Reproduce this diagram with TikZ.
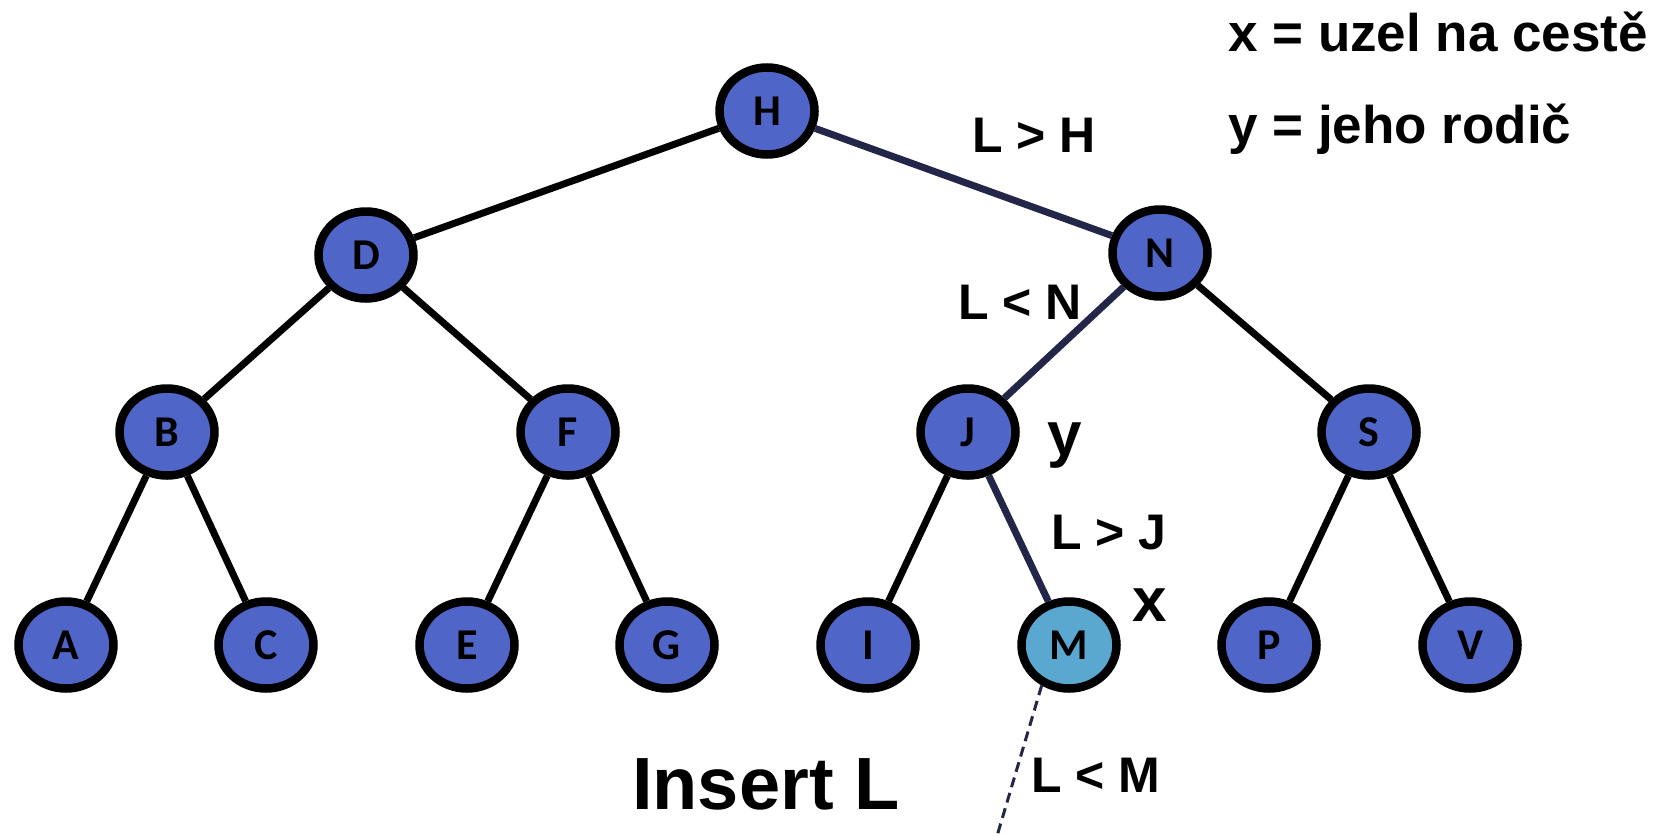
\documentclass[tikz,border=0pt]{standalone}
\usepackage{fontspec}
\setmainfont{Liberation Sans}
\newfontfamily\uzelfont{Carlito}
\usetikzlibrary{shapes.geometric}
\definecolor{uzelmodra}{RGB}{79,102,200}
\definecolor{svetlamodra}{RGB}{90,168,208}
\definecolor{cesta}{RGB}{35,38,72}
\begin{document}
\begin{tikzpicture}[x=1pt, y=-1pt,
        uzel/.style={ellipse, draw=black, fill=uzelmodra, line width=8.5pt,
            minimum width=95pt, minimum height=87pt, inner sep=0pt,
            font=\uzelfont\bfseries\fontsize{44}{44}\selectfont},
        hrana/.style={line width=7pt},
        popis/.style={anchor=base west, inner sep=0pt,
            font=\bfseries\fontsize{50}{50}\selectfont}]
            \useasboundingbox (0,0) rectangle (1664,836);
            % strom
            \node[uzel] (H) at (767,111) {H};
            \node[uzel] (D) at (366,255) {D};
            \node[uzel] (N) at (1160,253) {N};
            \node[uzel] (B) at (167,432) {B};
            \node[uzel] (F) at (568,432) {F};
            \node[uzel] (J) at (968,432) {J};
            \node[uzel] (S) at (1369,432) {S};
            \node[uzel] (A) at (66,645) {A};
            \node[uzel] (C) at (266,645) {C};
            \node[uzel] (E) at (467,645) {E};
            \node[uzel] (G) at (667,645) {G};
            \node[uzel] (I) at (868,645) {I};
            \node[uzel, fill=svetlamodra] (M) at (1069,645) {M};
            \node[uzel] (P) at (1269,645) {P};
            \node[uzel] (V) at (1470,645) {V};
            \draw[hrana] (H) -- (D);
            \draw[hrana] (D) -- (B);
            \draw[hrana] (D) -- (F);
            \draw[hrana] (B) -- (A);
            \draw[hrana] (B) -- (C);
            \draw[hrana] (F) -- (E);
            \draw[hrana] (F) -- (G);
            \draw[hrana] (N) -- (S);
            \draw[hrana] (J) -- (I);
            \draw[hrana] (S) -- (P);
            \draw[hrana] (S) -- (V);
            % cesta pri vkladani
            \draw[hrana, cesta] (H) -- (N);
            \draw[hrana, cesta] (N) -- (J);
            \draw[hrana, cesta] (J) -- (M);
            \coordinate (konec) at (997,836);
            \draw[cesta, line width=3pt, dash pattern=on 10pt off 6pt] (M.236) -- (konec);
            % popisky
            \node[popis] (LH) at (972,152) {L > H};
            \node[popis] (LN) at (958,319) {L < N};
            \node[popis, font=\bfseries\fontsize{62}{62}\selectfont] (y) at (1047,455) {y};
            \node[popis] (LJ) at (1051,549) {L > J};
            \node[popis, font=\bfseries\fontsize{62}{62}\selectfont] (x) at (1132,621) {x};
            \node[popis] (LM) at (1031,792) {L < M};
            \node[popis, font=\bfseries\fontsize{74}{74}\selectfont] (vloz) at (632,809) {Insert L};
            \node[popis, font=\bfseries\fontsize{53}{53}\selectfont] (leg1) at (1228,51) {x = uzel na cestě};
            \node[popis, font=\bfseries\fontsize{53}{53}\selectfont] (leg2) at (1228,143) {y = jeho rodič};
\end{tikzpicture}
\end{document}
